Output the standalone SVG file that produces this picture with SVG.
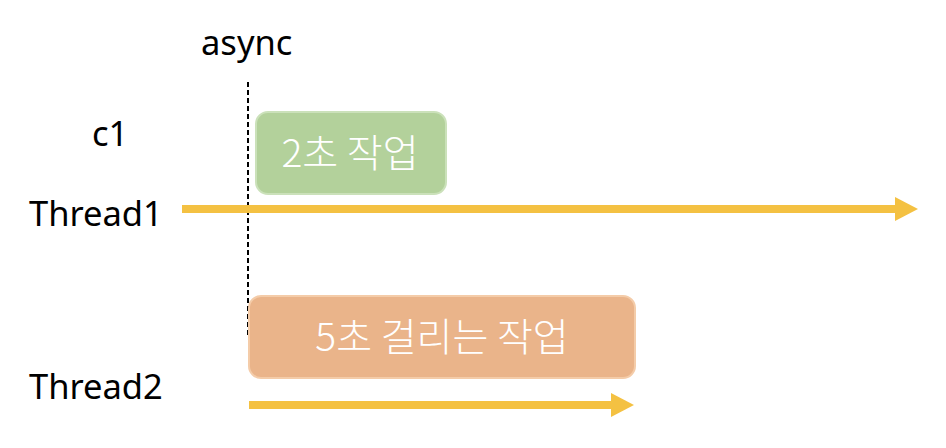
<svg xmlns="http://www.w3.org/2000/svg" width="946" height="448" viewBox="0 0 946 448">
<style>
.lbl{font-family:"Noto Sans","Noto Sans CJK KR",sans-serif;font-size:34.5px;fill:#000}
.box{font-family:"Noto Sans CJK KR","Noto Sans",sans-serif;font-size:39px;font-weight:300;fill:#fff;text-anchor:middle}
.arr{stroke:#f4c142;stroke-width:8;fill:none}
.head{fill:#f4c142}
</style>
<rect width="946" height="448" fill="#fff"/>
<g id="labels">
<text class="lbl" x="201" y="55">async</text>
<text class="lbl" x="92" y="146">c1</text>
<text class="lbl" x="29" y="226">Thread1</text>
<text class="lbl" x="29" y="399">Thread2</text>
</g>
<g id="connectors">
<line x1="248" y1="82" x2="248" y2="336" stroke="#000" stroke-width="2" stroke-dasharray="5,3"/>
<line class="arr" x1="182" y1="209" x2="896" y2="209"/>
<polygon class="head" points="895,197 918,209 895,221"/>
<line class="arr" x1="249" y1="405" x2="612" y2="405"/>
<polygon class="head" points="611,393 634,405 611,417"/>
</g>
<g id="task1">
<rect x="256" y="112" width="190" height="82" rx="12" fill="#b3d19b" stroke="#cbe1ba" stroke-width="2"/>
<text class="box" x="350" y="167">2초 작업</text>
</g>
<g id="task2">
<rect x="249" y="296" width="386" height="82" rx="12" fill="#eab48a" stroke="#f4cca9" stroke-width="2"/>
<text class="box" x="442" y="351">5초 걸리는 작업</text>
</g>
</svg>
